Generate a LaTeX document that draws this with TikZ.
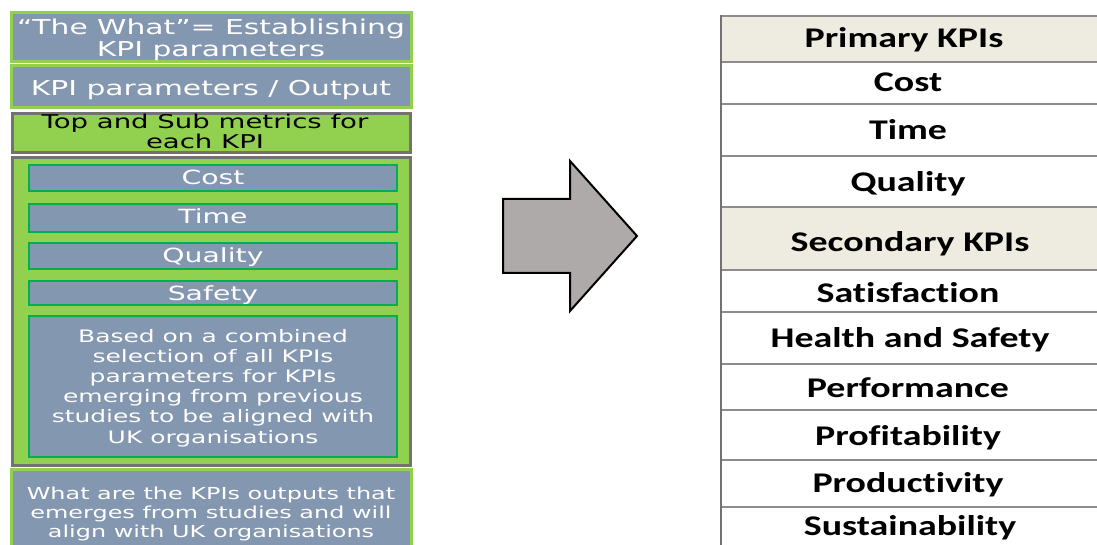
\documentclass[tikz,border=0pt]{standalone}
\usepackage{fontspec}
\newfontfamily\leftfont[FakeStretch=1.45]{DejaVu Sans}
\newfontfamily\tabfont[FakeStretch=1.33,Ligatures=NoCommon]{Carlito}
\definecolor{slate}{HTML}{8497B0}
\definecolor{leaf}{HTML}{92D050}
\definecolor{deepgreen}{HTML}{00B050}
\definecolor{frame}{HTML}{767171}
\definecolor{cream}{HTML}{EEECE1}
\definecolor{arrowgray}{HTML}{AEAAAA}
\definecolor{rule}{HTML}{8C8C8C}
\begin{document}
\begin{tikzpicture}[x=1pt,y=-1pt,
  every node/.style={inner sep=0pt,outer sep=0pt},
  slatebox/.style={draw=leaf,line width=3pt,fill=slate},
  greenbox/.style={draw=frame,line width=3pt,fill=leaf},
  barbox/.style={draw=deepgreen,line width=2.5pt,fill=slate},
  wtext/.style={text=white,align=center,anchor=base},
  btext/.style={text=black,align=center,anchor=base},
  head/.style={fill=cream},
  kpi/.style={font={\tabfont\bfseries\fontsize{28.5}{30}\selectfont},anchor=base}
]
\useasboundingbox (0,0) rectangle (1097,545);

% ---------- left column ----------
% (multi-line labels are placed by the baseline of their last line)
\path[slatebox] (11.5,12.5) rectangle (411,62);
\node[wtext,font={\leftfont\fontsize{20.5}{22}\selectfont}] (t1) at (211,57)
  {“The What”= Establishing\\KPI parameters};

\path[slatebox] (11.5,66) rectangle (411,108);
\node[wtext,font={\leftfont\fontsize{20.5}{22}\selectfont}] (t2) at (211,96)
  {KPI parameters / Output};

\path[greenbox] (12.5,113.5) rectangle (410,152.5);
\node[btext,font={\leftfont\fontsize{19}{20}\selectfont}] (t3) at (205,149)
  {Top and Sub metrics for\\each KPI};

\path[greenbox] (12.5,157.5) rectangle (410,465.5);
\path[barbox] (29,165) rectangle (397,191);
\node[wtext,font={\leftfont\fontsize{19.5}{21}\selectfont}] (cost) at (213,185) {Cost};
\path[barbox] (29,204) rectangle (397,232);
\node[wtext,font={\leftfont\fontsize{19.5}{21}\selectfont}] (time) at (213,224) {Time};
\path[barbox] (29,243) rectangle (397,269);
\node[wtext,font={\leftfont\fontsize{19.5}{21}\selectfont}] (quality) at (213,263) {Quality};
\path[barbox] (29,281) rectangle (397,305);
\node[wtext,font={\leftfont\fontsize{19.5}{21}\selectfont}] (safety) at (213,300) {Safety};
\path[barbox] (29,316) rectangle (397,457);
\node[wtext,font={\leftfont\fontsize{17.2}{20.2}\selectfont}] (basis) at (213,443)
  {Based on a combined\\selection of all KPIs\\parameters for KPIs\\emerging from previous\\studies to be aligned with\\UK organisations};

\path[slatebox] (11.5,469.5) rectangle (411,550);
\node[wtext,font={\leftfont\fontsize{16.5}{19}\selectfont}] (t5) at (211,537)
  {What are the KPIs outputs that\\emerges from studies and will\\align with UK organisations};

% ---------- block arrow ----------
\draw[line width=2pt,fill=arrowgray,line join=miter]
  (503,199) -- (570,199) -- (570,161) -- (637,236) -- (570,311) -- (570,273) -- (503,273) -- cycle;

% ---------- KPI table ----------
\fill[head] (721,16) rectangle (1100,62);
\fill[head] (721,207) rectangle (1100,270);
\foreach \yy in {16,62,104,156,207,270,312,364,410,460,507}
  \draw[rule,line width=1.5pt] (721,\yy) -- (1100,\yy);
\draw[frame,line width=2.5pt] (721,15) -- (721,550);

\node[kpi] (primary) at (904,48) {Primary KPIs};
\node[kpi] (kcost) at (908,92) {Cost};
\node[kpi] (ktime) at (908,140) {Time};
\node[kpi] (kqual) at (908,192) {Quality};
\node[kpi] (secondary) at (910,252) {Secondary KPIs};
\node[kpi] (ksat) at (908,302) {Satisfaction};
\node[kpi] (khs) at (910,347) {Health and Safety};
\node[kpi] (kperf) at (908,397) {Performance};
\node[kpi] (kprof) at (908,445) {Profitability};
\node[kpi] (kprod) at (908,492) {Productivity};
\node[kpi] (ksus) at (910,535) {Sustainability};
\end{tikzpicture}
\end{document}
